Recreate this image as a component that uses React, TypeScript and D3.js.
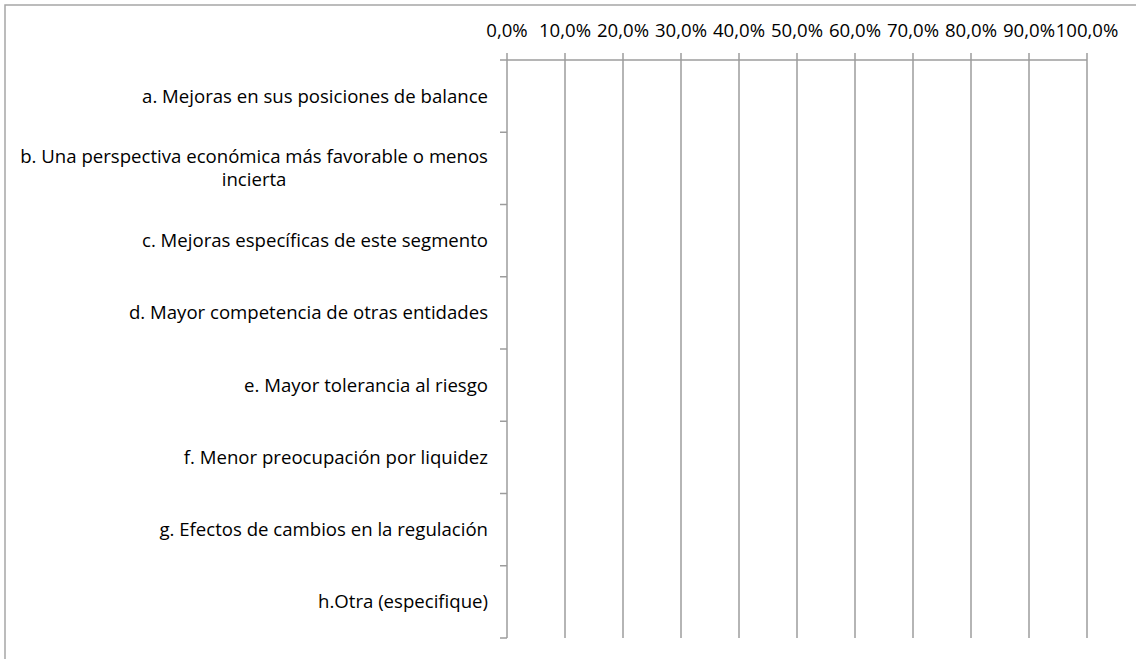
import React from "react";
import * as d3 from "d3";

// categorías del eje vertical (sin valores en el gráfico original)
const categories = [
  "a. Mejoras en sus posiciones de balance",
  "b. Una perspectiva económica más favorable o menos incierta",
  "c. Mejoras específicas de este segmento",
  "d. Mayor competencia de otras entidades",
  "e. Mayor tolerancia al riesgo",
  "f. Menor preocupación por liquidez",
  "g. Efectos de cambios en la regulación",
  "h.Otra (especifique)",
];
const values: (number | null)[] = [null, null, null, null, null, null, null, null];
const xTicks = [0, 0.1, 0.2, 0.3, 0.4, 0.5, 0.6, 0.7, 0.8, 0.9, 1.0];

const W = 1136;
const H = 659;
const margin = { left: 507, right: 49, top: 60, bottom: 21 };
const FAMILY = "Open Sans";
const FONT = "'Open Sans', Lato, sans-serif";
const FS = 18.6;
const FS_TICK = 18.6;
const GRID = "#9c9c9c";

const esLocale = d3.formatLocale({
  decimal: ",",
  thousands: ".",
  grouping: [3],
  currency: ["", "€"],
});
const fmt = esLocale.format(".1%");

const measureCtx = document.createElement("canvas").getContext("2d")!;
function textW(s: string) {
  measureCtx.font = `${FS}px '${FAMILY}'`;
  return measureCtx.measureText(s).width;
}

// partir etiquetas largas en varias líneas
function wrap(text: string, maxW: number): string[] {
  const words = text.split(" ");
  const lines: string[] = [];
  let cur = "";
  words.forEach(w => {
    const test = cur ? cur + " " + w : w;
    if (textW(test) > maxW && cur) {
      lines.push(cur);
      cur = w;
    } else cur = test;
  });
  if (cur) lines.push(cur);
  return lines;
}

export default function App() {
  const x = d3.scaleLinear().domain([0, 1]).range([margin.left, W - margin.right]);
  const y = d3
    .scaleBand<string>()
    .domain(categories)
    .range([margin.top, H - margin.bottom])
    .padding(0);

  const labelRight = margin.left - 19;
  const maxLabelW = 490;

  return (
    <svg
      width={W}
      height={H}
      style={{ position: "absolute", left: 0, top: 0, background: "#fff" }}
      fontFamily={FONT}
    >
      {/* borde del área del gráfico */}
      <rect x={5} y={5} width={W + 20} height={H + 20} fill="none" stroke="#a6a6a6" strokeWidth={1.5} />

      {/* líneas de cuadrícula verticales + marcas superiores */}
      {xTicks.map(t => (
        <line
          key={"g" + t}
          x1={x(t)}
          x2={x(t)}
          y1={margin.top - 7}
          y2={H - margin.bottom}
          stroke={GRID}
          strokeWidth={1.5}
        />
      ))}
      {/* eje superior */}
      <line
        x1={margin.left - 7}
        x2={x(1)}
        y1={margin.top}
        y2={margin.top}
        stroke={GRID}
        strokeWidth={1.5}
      />
      {/* marcas del eje de categorías */}
      {categories.map((c, i) => (
        <line
          key={"t" + i}
          x1={margin.left - 7}
          x2={margin.left}
          y1={(y(c) as number) + y.bandwidth()}
          y2={(y(c) as number) + y.bandwidth()}
          stroke={GRID}
          strokeWidth={1.5}
        />
      ))}

      {/* etiquetas de porcentaje */}
      {xTicks.map(t => (
        <text key={"l" + t} x={x(t)} y={37} textAnchor="middle" fontSize={FS_TICK} fill="#000">
          {fmt(t)}
        </text>
      ))}

      {/* barras (vacías en el original) */}
      {categories.map((c, i) =>
        values[i] == null ? null : (
          <rect
            key={"b" + i}
            x={x(0)}
            y={(y(c) as number) + y.bandwidth() * 0.2}
            width={x(values[i] as number) - x(0)}
            height={y.bandwidth() * 0.6}
            fill="#4f81bd"
          />
        )
      )}

      {/* etiquetas de categorías */}
      {categories.map(c => {
        const lines = wrap(c, maxLabelW);
        const cy = (y(c) as number) + y.bandwidth() / 2;
        const lh = 23;
        if (lines.length === 1) {
          return (
            <text key={c} x={labelRight} y={cy} dy="0.35em" textAnchor="end" fontSize={FS} fill="#000">
              {c}
            </text>
          );
        }
        // bloque alineado a la derecha, líneas centradas dentro del bloque
        const blockW = d3.max(lines, l => textW(l)) as number;
        const mid = labelRight - blockW / 2;
        return (
          <text key={c} x={mid} textAnchor="middle" fontSize={FS} fill="#000">
            {lines.map((l, k) => (
              <tspan key={k} x={mid} y={cy + (k - (lines.length - 1) / 2) * lh} dy="0.35em">
                {l}
              </tspan>
            ))}
          </text>
        );
      })}
    </svg>
  );
}
